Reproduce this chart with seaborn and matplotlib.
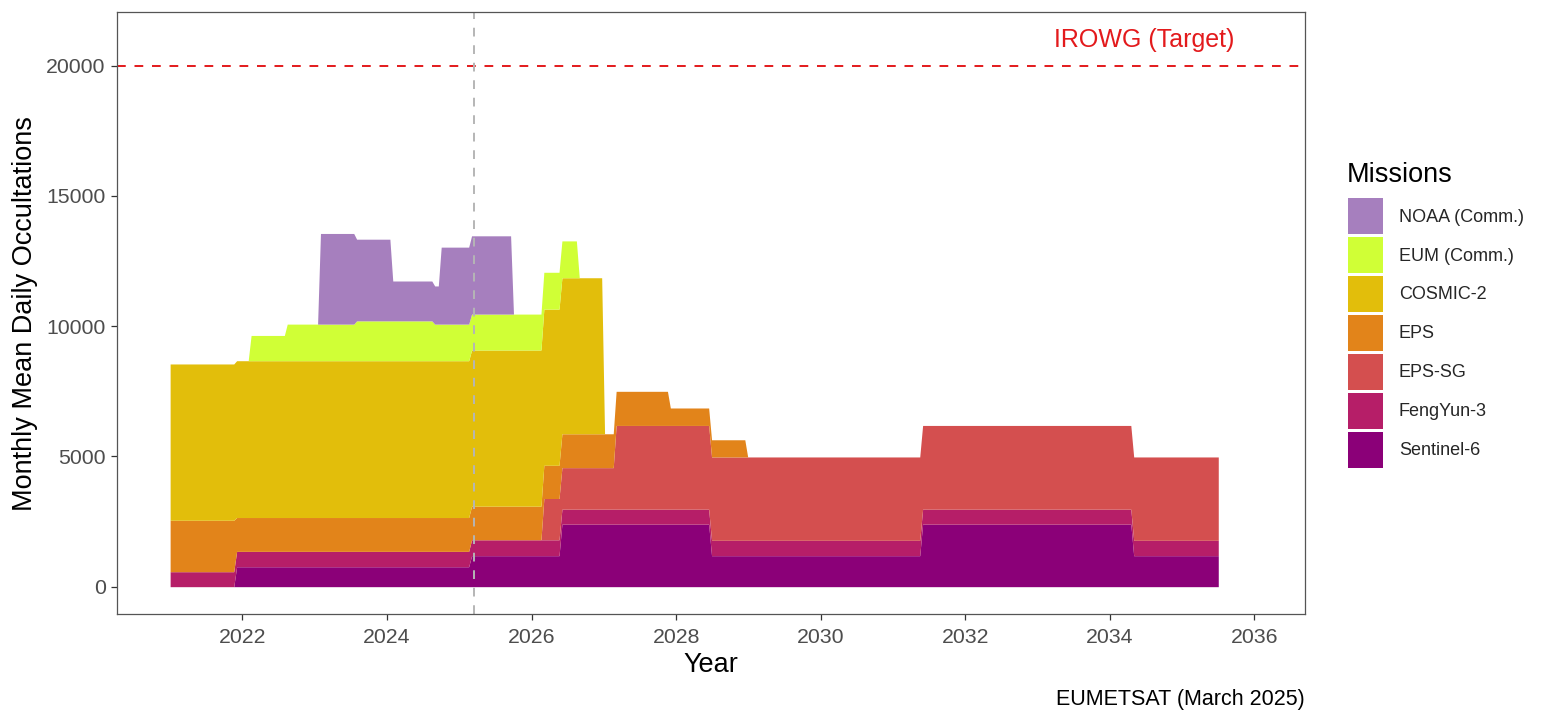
import numpy as np
import matplotlib
matplotlib.use("Agg")
import matplotlib.pyplot as plt
from matplotlib.patches import Patch, Rectangle
from matplotlib.legend_handler import HandlerBase
import seaborn as sns

# ---------------- data ----------------
period_start = [2021.00, 2021.88, 2022.08, 2022.58, 2023.04, 2023.54, 2024.04,
                2024.62, 2024.71, 2025.13, 2025.71, 2026.13, 2026.38, 2026.62,
                2026.97, 2027.13, 2027.88, 2028.45, 2028.95, 2031.37, 2034.29]
period_end = 2035.50

missions = ["NOAA (Comm.)", "EUM (Comm.)", "COSMIC-2", "EPS", "EPS-SG",
            "FengYun-3", "Sentinel-6"]

sentinel6 = [0, 765, 765, 765, 765, 765, 765, 765, 765, 1190, 1190, 1190,
             2400, 2400, 2400, 2400, 2400, 1190, 1190, 2400, 1190]
fengyun3 = [575, 590, 590, 590, 590, 590, 590, 590, 590, 610, 610, 610,
            575, 575, 575, 575, 575, 590, 590, 575, 590]
eps_sg = [0, 0, 0, 0, 0, 0, 0, 0, 0, 0, 0, 1585,
          1595, 1595, 1595, 3215, 3215, 3200, 3200, 3215, 3200]
eps = [1975, 1300, 1300, 1300, 1300, 1300, 1300, 1300, 1300, 1290, 1290, 1275,
       1300, 1300, 1300, 1310, 670, 660, 0, 0, 0]
cosmic2 = [6000, 6020, 6020, 6020, 6020, 6020, 6020, 6020, 6020, 5995, 5995, 5995,
           5990, 5990, 0, 0, 0, 0, 0, 0, 0]
eum_comm = [0, 0, 970, 1405, 1405, 1530, 1530, 1405, 1405, 1380, 1380, 1415,
            1415, 0, 0, 0, 0, 0, 0, 0, 0]
noaa_comm = [0, 0, 0, 0, 3480, 3135, 1530, 1465, 2955, 3005, 0, 0,
             0, 0, 0, 0, 0, 0, 0, 0, 0]

target_value = 20000
target_label = "IROWG (Target)"
now_year = 2025.21
x_ticks = [2022, 2024, 2026, 2028, 2030, 2032, 2034, 2036]
y_ticks = [0, 5000, 10000, 15000, 20000]

colors = {
    "NOAA (Comm.)": "#A67FBE",
    "EUM (Comm.)": "#D0FF36",
    "COSMIC-2": "#E2BE0B",
    "EPS": "#E2841A",
    "EPS-SG": "#D44F4F",
    "FengYun-3": "#B61E68",
    "Sentinel-6": "#8B0078",
}

# ---------------- build step series (steps with short ramps) ----------------
RAMP = 0.04


def step_series(vals):
    xs, ys = [], []
    n = len(period_start)
    for i in range(n):
        x0 = period_start[i] + (RAMP if i > 0 else 0.0)
        x1 = period_start[i + 1] if i + 1 < n else period_end
        xs += [x0, x1]
        ys += [vals[i], vals[i]]
    return np.array(xs), np.array(ys, dtype=float)


series_by_name = {
    "Sentinel-6": sentinel6,
    "FengYun-3": fengyun3,
    "EPS-SG": eps_sg,
    "EPS": eps,
    "COSMIC-2": cosmic2,
    "EUM (Comm.)": eum_comm,
    "NOAA (Comm.)": noaa_comm,
}
stack_order = list(reversed(missions))  # bottom first
x, _ = step_series(sentinel6)
ys = [step_series(series_by_name[m])[1] for m in stack_order]

# ---------------- style ----------------
sns.set_theme(style="white")
plt.rcParams["font.family"] = ["Liberation Sans", "DejaVu Sans"]

palette = sns.color_palette([colors[m] for m in stack_order])

fig = plt.figure(figsize=(15.51, 7.12), dpi=100)
ax = fig.add_axes([0.0752, 0.1376, 0.7662, 0.8451])

ax.stackplot(x, *ys, colors=palette, linewidth=0, antialiased=True)

ax.axhline(target_value, color="#E31A1C", linewidth=1.4, linestyle=(0, (4.5, 4.5)))
ax.axvline(now_year, color="#B5B5B5", linewidth=1.4, linestyle=(0, (4.5, 4.5)))
ax.text(2034.47, 21000, target_label, color="#E31A1C", fontsize=18,
        ha="center", va="center")

ax.set_xlim(2020.26, 2036.70)
ax.set_ylim(-1050, 22050)
ax.set_xticks(x_ticks)
ax.set_xticklabels([str(t) for t in x_ticks])
ax.set_yticks(y_ticks)
ax.set_yticklabels([str(t) for t in y_ticks])
ax.tick_params(axis="y", which="both", length=4.5, width=0.9, color="#333333",
               labelcolor="#4D4D4D", labelsize=15.3, pad=3.5, left=True)
ax.tick_params(axis="x", which="both", length=4.5, width=0.9, color="#333333",
               labelcolor="#4D4D4D", labelsize=15.3, pad=5.5, bottom=True)
for sp in ax.spines.values():
    sp.set_visible(True)
    sp.set_color("#555555")
    sp.set_linewidth(0.9)
ax.grid(False)

ax.set_xlabel("Year", fontsize=19.5, color="black", labelpad=4)
ax.set_ylabel("Monthly Mean Daily Occultations", fontsize=19.5, color="black", labelpad=6)

fig.text(1305 / 1551, 1 - 700 / 712, "EUMETSAT (March 2025)", ha="right", va="center",
         fontsize=15.5, color="black")


# legend: full-size square keys like ggplot
class FullKey(HandlerBase):
    def legend_artist(self, legend, orig_handle, fontsize, handlebox):
        r = Rectangle((-handlebox.xdescent, -handlebox.ydescent),
                      handlebox.width, handlebox.height,
                      facecolor=orig_handle.get_facecolor(), edgecolor="none",
                      transform=handlebox.get_transform())
        handlebox.add_artist(r)
        return r


fig.text(1347 / 1551, 1 - 182 / 712, "Missions", ha="left", va="baseline",
         fontsize=19.5, color="black")
handles = [Patch(facecolor=colors[m], edgecolor="none") for m in missions]
leg = fig.legend(handles, missions, loc="upper left",
                 bbox_to_anchor=(1347.5 / 1551, 1 - 198.3 / 712), bbox_transform=fig.transFigure,
                 frameon=False, fontsize=13,
                 handler_map={Patch: FullKey()},
                 handlelength=1.97, handleheight=2.665, labelspacing=0.18,
                 handletextpad=0.87, borderpad=0, borderaxespad=0)

fig.savefig("out.png", dpi=100)
